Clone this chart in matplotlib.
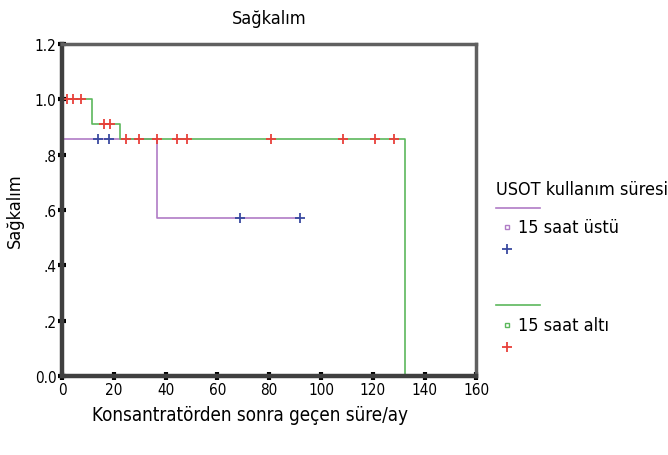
import matplotlib.pyplot as plt
from matplotlib.lines import Line2D

plt.rcParams['font.family'] = ['DejaVu Sans']
plt.rcParams['font.stretch'] = 'condensed'

# 15 saat üstü (purple line, blue censor marks)
ust_t = [0, 36.7, 92]
ust_s = [0.857, 0.571, 0.571]
ust_cens_t = [13.7, 18.2, 68.6, 91.9]
ust_cens_s = [0.857, 0.857, 0.571, 0.571]

# 15 saat altı (green line, red censor marks)
alt_t = [0, 11.6, 22.5, 132.6, 132.6]
alt_s = [1.0, 0.913, 0.857, 0.0, 0.0]
alt_cens_t = [1.8, 4.3, 7.2, 16, 18.6, 24.8, 29.6, 36.7, 44.4, 48.3, 80.6, 108.4, 121, 128.4]
alt_cens_s = [1.0, 1.0, 1.0, 0.913, 0.913, 0.857, 0.857, 0.857, 0.857, 0.857, 0.857, 0.857, 0.857, 0.857]

xticks = [0, 20, 40, 60, 80, 100, 120, 140, 160]
yticks = [0.0, 0.2, 0.4, 0.6, 0.8, 1.0, 1.2]
ytick_labels = ['0.0', '.2', '.4', '.6', '.8', '1.0', '1.2']

purple = '#b07cc6'
blue = '#3a4aa0'
green = '#5cb85c'
red = '#e8403a'

fig = plt.figure(figsize=(6.68, 4.56), dpi=100)
ax = fig.add_axes([0.093, 0.173, 0.62, 0.728])

ax.step(ust_t, ust_s, where='post', color=purple, lw=1.2)
ax.plot(ust_cens_t, ust_cens_s, '+', color=blue, ms=7, mew=1.3)
ax.step(alt_t, alt_s, where='post', color=green, lw=1.2)
ax.plot(alt_cens_t, alt_cens_s, '+', color=red, ms=7, mew=1.3)

ax.set_xlim(0, 160)
ax.set_ylim(0, 1.2)
ax.set_xticks(xticks)
ax.set_yticks(yticks)
ax.set_yticklabels(ytick_labels)
ax.tick_params(direction='inout', length=6, width=3, color='black', labelsize=11, pad=1)

for side in ['left', 'bottom']:
    ax.spines[side].set_linewidth(3.2)
    ax.spines[side].set_color('#404040')
for side in ['top', 'right']:
    ax.spines[side].set_linewidth(2.5)
    ax.spines[side].set_color('#606060')

ax.set_title('Sağkalım', fontsize=13, pad=15)
ax.set_ylabel('Sağkalım', fontsize=13, labelpad=8)
ax.set_xlabel('Konsantratörden sonra geçen süre/ay', fontsize=13.5)
ax.xaxis.set_label_coords(0.454, -0.088)

# legend drawn by hand to the right of the axes
kw = dict(transform=ax.transAxes, clip_on=False)
ax.text(1.048, 0.563, 'USOT kullanım süresi', fontsize=13, va='center', transform=ax.transAxes)
ax.add_line(Line2D([1.048, 1.155], [0.506, 0.506], color=purple, lw=1.2, **kw))
ax.add_line(Line2D([1.075], [0.449], marker='s', color=purple, mfc='none', ms=3.5, **kw))
ax.text(1.101, 0.449, '15 saat üstü', fontsize=13, va='center', transform=ax.transAxes)
ax.add_line(Line2D([1.075], [0.383], marker='+', color=blue, ms=7, mew=1.3, **kw))
ax.add_line(Line2D([1.048, 1.155], [0.214, 0.214], color=green, lw=1.2, **kw))
ax.add_line(Line2D([1.075], [0.154], marker='s', color=green, mfc='none', ms=3.5, **kw))
ax.text(1.101, 0.154, '15 saat altı', fontsize=13, va='center', transform=ax.transAxes)
ax.add_line(Line2D([1.075], [0.087], marker='+', color=red, ms=7, mew=1.3, **kw))

fig.savefig('out.png', dpi=100)
